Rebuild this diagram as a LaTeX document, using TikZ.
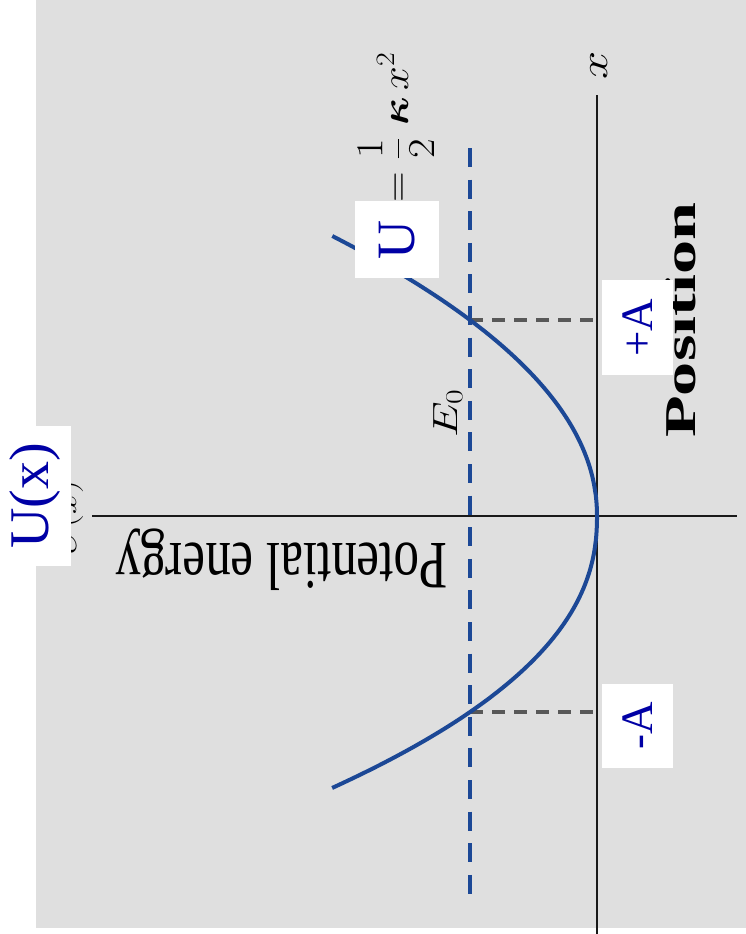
\RequirePackage{fix-cm}
\documentclass[tikz,border=0pt]{standalone}
\usepackage{fontspec}
\setmainfont{Liberation Serif}
\usepackage{amsmath}
\definecolor{bggray}{RGB}{223,223,223}
\definecolor{curveblue}{RGB}{28,72,150}
\definecolor{labelblue}{RGB}{0,0,165}
\definecolor{dashgray}{RGB}{88,88,88}
\definecolor{axisblack}{RGB}{25,25,25}
\begin{document}
\begin{tikzpicture}[x=1pt,y=-1pt,
  axisline/.style={line width=2.5pt, axisblack},
  curveline/.style={line width=4pt, curveblue},
  eline/.style={line width=3.5pt, curveblue, dash pattern=on 19pt off 12.6pt},
  ampline/.style={line width=3.5pt, dashgray, dash pattern=on 13pt off 9pt},
  labelbox/.style={fill=white, inner sep=0pt, text=labelblue, rotate=90},
  blacktext/.style={inner sep=0pt, text=black}]
\fill[white] (0,0) rectangle (746,934);
\useasboundingbox (0,0) rectangle (746,934);
\fill[bggray] (36,0) rectangle (746,928);

% axes
\coordinate (hl) at (92,516);
\coordinate (hr) at (737,516);
\coordinate (vt) at (597,95);
\coordinate (vb) at (597,934);
\draw[axisline] (hl) -- (hr);
\draw[axisline] (vt) -- (vb);

% E0 level line
\coordinate (et) at (470,148);
\coordinate (eb) at (470,894);
\draw[eline] (et) -- (eb);

% amplitude dashed lines
\coordinate (pa) at (470,320);
\coordinate (pae) at (593,320);
\coordinate (ma) at (470,712);
\coordinate (mae) at (593,712);
\draw[ampline] (pa) -- (pae);
\draw[ampline] (ma) -- (mae);

% potential curve
\draw[curveline, line join=round]
  plot[domain=-2.80:-0.0001, samples=80, smooth] ({597-127*pow(abs(\x)/1.96,2.06)}, {516+100*\x})
  -- plot[domain=0.0001:2.72, samples=80, smooth] ({597-127*pow(abs(\x)/1.96,2.245)}, {516+100*\x});

% black labels
\node[blacktext, font=\fontsize{28}{32}\selectfont, yscale=1.3, rotate=90, anchor=base] (uxorig) at (76,518) {$U(x)$};
\node[blacktext, font=\fontsize{51}{56}\selectfont, yscale=1.33, rotate=180, anchor=base west] (pe) at (448,543) {Potential energy};
\node[blacktext, font=\fontsize{44}{50}\selectfont\bfseries, yscale=1.55, rotate=90, anchor=base west] (pos) at (695,438) {Position};
\node[blacktext, font=\fontsize{35}{40}\selectfont, yscale=1.3, rotate=90, anchor=base west] (e0) at (457,438) {$E_0$};
\node[blacktext, font=\fontsize{39}{44}\selectfont, yscale=1.3, rotate=90, anchor=base] (xl) at (607,65) {$x$};
\node[blacktext, font=\fontsize{38}{42}\selectfont, yscale=1.12, rotate=90, anchor=base east] (formula) at (408,52) {$U=\dfrac{1}{2}\;\boldsymbol{\kappa}\,x^2$};

% blue overlay labels
\node[labelbox, minimum width=140pt, minimum height=71pt, font=\fontsize{56}{60}\selectfont] (uxbox) at (35.5,496) {U(x)};
\node[labelbox, minimum width=77pt, minimum height=84pt, font=\fontsize{54}{58}\selectfont] (ubox) at (397,239.5) {U};
\node[labelbox, minimum width=95pt, minimum height=71pt, font=\fontsize{45}{50}\selectfont] (pabox) at (637.5,327.5) {+A};
\node[labelbox, minimum width=84pt, minimum height=71pt, font=\fontsize{45}{50}\selectfont] (mabox) at (637.5,726) {-A};
\end{tikzpicture}
\end{document}
